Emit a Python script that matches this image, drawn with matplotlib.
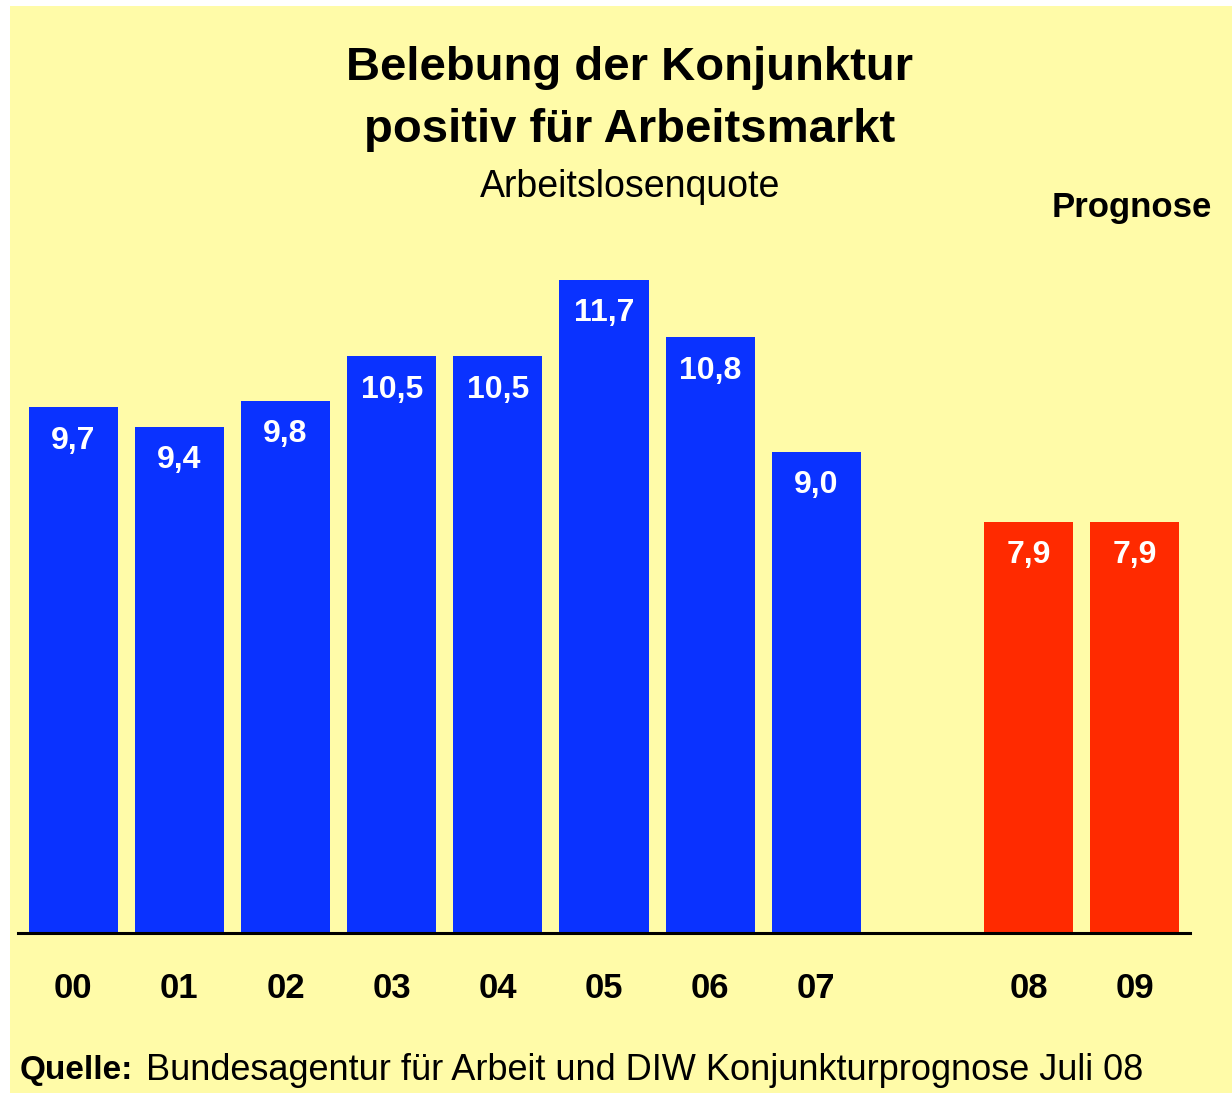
import matplotlib.pyplot as plt
from matplotlib.patches import Rectangle

years = ["00", "01", "02", "03", "04", "05", "06", "07", "08", "09"]
quote = [9.7, 9.4, 9.8, 10.5, 10.5, 11.7, 10.8, 9.0, 7.9, 7.9]
prognose = [False]*8 + [True]*2
xpos = [0, 1, 2, 3, 4, 5, 6, 7, 9, 10]

W, H = 1232, 1093
fig = plt.figure(figsize=(W/100, H/100), dpi=100)
fig.patch.set_facecolor("white")
fig.patches.append(Rectangle((10/W, 0), 1 - 10/W, 1 - 6/H, transform=fig.transFigure,
                             facecolor="#FFFBA8", edgecolor="none", zorder=-1))

ax = fig.add_axes([18/W, 1 - 933/H, 1172/W, 653/H])
ax.set_facecolor("none")
ax.set_zorder(2)
colors = ["#FF2A00" if p else "#0A32FF" for p in prognose]
ax.bar(xpos, quote, width=0.84, color=colors, bottom=0)
ax.set_xlim(-0.52, 10.52)
ax.set_ylim(1.45, 11.7)
for s in ["top", "right", "left"]:
    ax.spines[s].set_visible(False)
ax.spines["bottom"].set_linewidth(2.2)
ax.set_yticks([])
ax.set_xticks(xpos)
ax.set_xticklabels(years, fontsize=25, fontweight="bold", family="Liberation Sans")
ax.tick_params(axis="x", length=0, pad=28)

for x, v in zip(xpos, quote):
    ax.annotate(f"{v:.1f}".replace(".", ","), (x, v), xytext=(0, -24),
                textcoords="offset points", ha="center", va="center",
                color="white", fontsize=23, fontweight="bold", family="Liberation Sans")

fig.text(630/W, 1 - 68/H, "Belebung der Konjunktur", ha="center", va="center",
         fontsize=34, fontweight="bold", family="Liberation Sans")
fig.text(630/W, 1 - 130/H, "positiv für Arbeitsmarkt", ha="center", va="center",
         fontsize=34, fontweight="bold", family="Liberation Sans")
fig.text(630/W, 1 - 187/H, "Arbeitslosenquote", ha="center", va="center",
         fontsize=27, family="Liberation Sans")
fig.text(1212/W, 1 - 208/H, "Prognose", ha="right", va="center",
         fontsize=25, fontweight="bold", family="Liberation Sans")
fig.text(20/W, 1 - 1070/H, "Quelle:", ha="left", va="center",
         fontsize=24, fontweight="bold", family="Liberation Sans")
fig.text(146/W, 1 - 1070/H, "Bundesagentur für Arbeit und DIW Konjunkturprognose Juli 08",
         ha="left", va="center", fontsize=26, family="Liberation Sans")

fig.savefig("out.png", dpi=100, facecolor=fig.get_facecolor())
